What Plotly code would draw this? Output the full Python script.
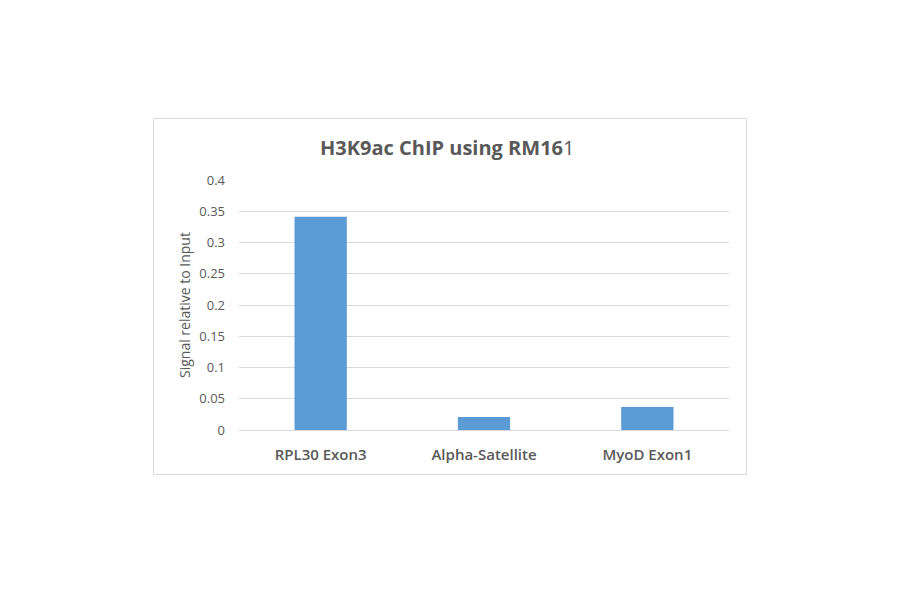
import plotly.graph_objects as go

categories = ["RPL30 Exon3", "Alpha-Satellite", "MyoD Exon1"]
values = [0.341, 0.021, 0.037]
tick_vals = [0, 0.05, 0.1, 0.15, 0.2, 0.25, 0.3, 0.35, 0.4]
tick_text = ["0", "0.05", "0.1", "0.15", "0.2", "0.25", "0.3", "0.35", "0.4"]

# page body adds an 8px margin, so the figure is drawn 8px smaller and offset
OFF = 8
W, H = 900 - OFF, 594 - OFF
L, R, T, B = 239 - OFF, 729 - OFF, 180 - OFF, 430 - OFF

fig = go.Figure(go.Bar(
    x=categories, y=values,
    marker=dict(color="#5b9bd5", line=dict(width=0)),
    width=0.32,
))

def px(x):
    return (x - OFF - L) / (R - L)

def py(y):
    return (B - (y - OFF)) / (B - T)

fig.update_layout(
    width=W, height=H,
    margin=dict(l=L, r=W - R, t=T, b=H - B),
    paper_bgcolor="white", plot_bgcolor="white",
    showlegend=False,
    font=dict(family="Open Sans, Liberation Sans, sans-serif", color="#595959"),
    xaxis=dict(
        showgrid=False, showline=False, zeroline=False,
        tickfont=dict(size=15, color="#595959", family="Open Sans, sans-serif", weight=600),
        ticks="", ticklabelstandoff=14,
    ),
    yaxis=dict(
        range=[0, 0.4], tickvals=tick_vals, ticktext=tick_text,
        showgrid=True, gridcolor="#d9d9d9", gridwidth=1,
        zeroline=True, zerolinecolor="#d9d9d9", zerolinewidth=1,
        showline=False, ticks="", ticklabelstandoff=13,
        tickfont=dict(size=13, color="#595959"),
    ),
    shapes=[dict(
        type="rect", xref="paper", yref="paper",
        x0=px(153.5), x1=px(746.5), y0=py(474.5), y1=py(118.5),
        line=dict(color="#d9d9d9", width=1), fillcolor="rgba(0,0,0,0)",
    )],
    annotations=[
        dict(text="<b>H3K9ac ChIP using RM16</b>1", xref="paper", yref="paper",
             x=px(447), y=py(147), xanchor="center", yanchor="middle",
             showarrow=False, font=dict(size=20, color="#595959")),
        dict(text="Signal relative to Input", xref="paper", yref="paper",
             x=px(184), y=py(305), xanchor="center", yanchor="middle",
             textangle=-90, showarrow=False, font=dict(size=14, color="#595959")),
    ],
)

fig.write_html("out.html")
